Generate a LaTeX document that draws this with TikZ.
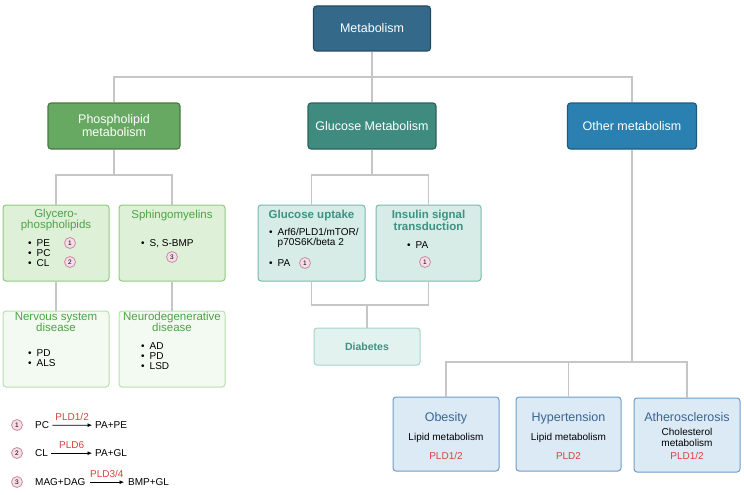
\documentclass[tikz,border=0pt]{standalone}
\usepackage{fontspec}
\setmainfont{Liberation Sans}
\usetikzlibrary{arrows.meta,positioning}
\definecolor{metablue}{HTML}{35698A}
\definecolor{phosgreen}{HTML}{67A862}
\definecolor{glucteal}{HTML}{3F8B7F}
\definecolor{otherblue}{HTML}{2A80B1}
\definecolor{lgfill}{HTML}{DFF0D9}
\definecolor{lgdraw}{HTML}{8DCB7E}
\definecolor{lgtext}{HTML}{4BA443}
\definecolor{pgfill}{HTML}{F3FAF1}
\definecolor{pgdraw}{HTML}{B7E0AC}
\definecolor{tfill}{HTML}{D7ECE7}
\definecolor{tdraw}{HTML}{74BCAB}
\definecolor{ttext}{HTML}{3C9283}
\definecolor{dfill}{HTML}{E2F3EF}
\definecolor{ddraw}{HTML}{A3D6CA}
\definecolor{bfill}{HTML}{DCEAF6}
\definecolor{bdraw}{HTML}{6E9DC6}
\definecolor{btext}{HTML}{3A6494}
\definecolor{pldred}{HTML}{D8433B}
\definecolor{badgefill}{HTML}{F6DDE7}
\definecolor{badgedraw}{HTML}{C98DA3}
\definecolor{linkgray}{HTML}{C6C6C6}
\newcommand{\bul}{\textbullet\hspace{5pt}}

\begin{document}
\begin{tikzpicture}[x=1pt, y=-1pt,
    >={Latex[length=4.5pt,width=4pt]},
    link/.style={draw=linkgray, line width=1.4pt},
    topbox/.style={draw=#1!70!black, fill=#1, rounded corners=3pt,
                   line width=1.1pt, text=white, align=center, inner sep=0pt,
                   font=\fontsize{12.5}{13}\selectfont},
    subbox/.style={rounded corners=3pt, line width=1pt,
                   minimum width=106pt, minimum height=76pt},
    ttl/.style={inner sep=0pt, align=center, anchor=base,
                font=\fontsize{11.5}{11}\selectfont},
    lst/.style={inner sep=0pt, align=left, anchor=base west,
                font=\fontsize{10}{9.8}\selectfont},
    body/.style={inner sep=0pt, align=center, anchor=base,
                 font=\fontsize{10}{11}\selectfont},
    badge/.style={circle, draw=badgedraw, fill=badgefill, inner sep=0pt,
                  line width=0.8pt, minimum size=11pt,
                  font=\fontsize{6.5}{6.5}\selectfont}
  ]
  \useasboundingbox (0,0) rectangle (744,495);

  % top levels
  \node[topbox=metablue, minimum width=117pt, minimum height=45pt] (meta) at (372,28.5) {Metabolism};
  \node[topbox=phosgreen, minimum width=132pt, minimum height=46pt] (phos) at (114,126) {Phospholipid\\metabolism};
  \node[topbox=glucteal, minimum width=128pt, minimum height=46pt] (gluc) at (372,126) {Glucose Metabolism};
  \node[topbox=otherblue, minimum width=129pt, minimum height=46pt] (other) at (632,126) {Other metabolism};

  % phospholipid branch
  \node[subbox, draw=lgdraw, fill=lgfill] (glyc)  at (56,243)  {};
  \node[subbox, draw=lgdraw, fill=lgfill] (sphi)  at (172,243) {};
  \node[subbox, draw=pgdraw, fill=pgfill] (nerv)  at (56,349)  {};
  \node[subbox, draw=pgdraw, fill=pgfill] (neuro) at (172,349) {};

  \node[ttl, text=lgtext] (glyct) at (56,228) {Glycero-\\phospholipids};
  \node[lst] (glycl) at (28,266.2) {\bul PE\\\bul PC\\\bul CL};
  \node[badge] (b1a) at (70,243) {1};
  \node[badge] (b2a) at (70,262) {2};
  \node[ttl, text=lgtext] (sphit) at (172,218) {Sphingomyelins};
  \node[lst] (sphil) at (141,246.6) {\bul S, S-BMP};
  \node[badge] (b3a) at (172,257) {3};
  \node[ttl, text=lgtext] (nervt) at (56,331) {Nervous system\\disease};
  \node[lst, font=\fontsize{10}{10}\selectfont] (nervl) at (28,366.6) {\bul PD\\\bul ALS};
  \node[ttl, text=lgtext] (neurot) at (172,331) {Neurodegenerative\\disease};
  \node[lst, font=\fontsize{10}{10}\selectfont] (neurol) at (141,369.6) {\bul AD\\\bul PD\\\bul LSD};

  % glucose branch
  \node[subbox, draw=tdraw, fill=tfill, minimum width=107pt] (upt) at (311.5,243) {};
  \node[subbox, draw=tdraw, fill=tfill, minimum width=105pt] (ins) at (428.5,243) {};
  \node[subbox, draw=ddraw, fill=dfill, minimum height=37pt, text=ttext,
        font=\fontsize{10.5}{11}\selectfont\bfseries] (diab) at (367,346.5) {Diabetes};

  \node[ttl, text=ttext, font=\fontsize{11.5}{12}\selectfont\bfseries] (uptt) at (311.5,218) {Glucose uptake};
  \node[lst, font=\fontsize{10}{10}\selectfont] (uptl) at (269,245.6) {\bul Arf6/PLD1/mTOR/\\\hphantom{\bul}p70S6K/beta 2};
  \node[lst] (uptp) at (269,266.6) {\bul PA};
  \node[badge] (b1b) at (305,263) {1};
  \node[ttl, text=ttext, font=\fontsize{11.5}{12}\selectfont\bfseries] (inst) at (428.5,230) {Insulin signal\\transduction};
  \node[lst] (insp) at (407,248.6) {\bul PA};
  \node[badge] (b1c) at (425,262) {1};

  % other branch
  \node[subbox, draw=bdraw, fill=bfill, minimum height=74pt] (obes) at (446,434)   {};
  \node[subbox, draw=bdraw, fill=bfill, minimum height=74pt, minimum width=105pt] (hyp) at (568.5,434) {};
  \node[subbox, draw=bdraw, fill=bfill, minimum height=74pt] (athe) at (687,435)   {};

  \node[ttl, text=btext, font=\fontsize{12.5}{13}\selectfont] (obest) at (446,421) {Obesity};
  \node[body] (obesb) at (446,440.6) {Lipid metabolism};
  \node[body, text=pldred] (obesp) at (446,459.6) {PLD1/2};
  \node[ttl, text=btext, font=\fontsize{12.5}{13}\selectfont] (hypt) at (568.5,421) {Hypertension};
  \node[body] (hypb) at (568.5,440.6) {Lipid metabolism};
  \node[body, text=pldred] (hypp) at (568.5,459.6) {PLD2};
  \node[ttl, text=btext, font=\fontsize{12.5}{13}\selectfont] (athet) at (687,421) {Atherosclerosis};
  \node[body] (atheb) at (687,446.6) {Cholesterol\\metabolism};
  \node[body, text=pldred] (athep) at (687,459.6) {PLD1/2};

  % connectors
  \coordinate (bus)  at (372,77);
  \coordinate (pbus) at (114,175);
  \coordinate (gbus) at (372,175);
  \coordinate (dbus) at (367,305);
  \coordinate (obus) at (632,362);
  \draw[link] (meta) -- (gluc);
  \draw[link] (phos) |- (bus) -| (other);
  \draw[link] (phos) -- (pbus);
  \draw[link] (glyc) |- (pbus) -| (sphi);
  \draw[link] (glyc) -- (nerv);
  \draw[link] (sphi) -- (neuro);
  \draw[link] (gluc) -- (gbus);
  \draw[link] (upt) |- (gbus) -| (ins);
  \draw[link] (upt) |- (dbus) -| (ins);
  \draw[link] (dbus) -- (diab);
  \draw[link] (other) -- (obus);
  \draw[link] (obes) |- (obus) -| (athe);
  \draw[link] (hyp) -- (hyp |- obus);

  % legend
  \node[badge] (l1) at (17,425) {1};
  \node[badge] (l2) at (17,453) {2};
  \node[badge] (l3) at (17,482) {3};
  \node[lst] (pc)   at (35,428.6)  {PC};
  \node[lst] (pape) at (95,428.6)  {PA+PE};
  \node[lst] (cl)   at (35,456.6)  {CL};
  \node[lst] (pagl) at (95,456.6)  {PA+GL};
  \node[lst] (mag)  at (35,485.6)  {MAG+DAG};
  \node[lst] (bmp)  at (128,485.6) {BMP+GL};
  \draw[->, line width=0.7pt, shorten <=3pt, shorten >=3pt] (pc) -- node[above=1pt, text=pldred, font=\fontsize{10}{10}\selectfont]{PLD1/2} (pape);
  \draw[->, line width=0.7pt, shorten <=3pt, shorten >=3pt] (cl) -- node[above=1pt, text=pldred, font=\fontsize{10}{10}\selectfont]{PLD6} (pagl);
  \draw[->, line width=0.7pt, shorten <=4pt, shorten >=4pt] (mag) -- node[above=1pt, text=pldred, font=\fontsize{10}{10}\selectfont]{PLD3/4} (bmp);
\end{tikzpicture}
\end{document}
